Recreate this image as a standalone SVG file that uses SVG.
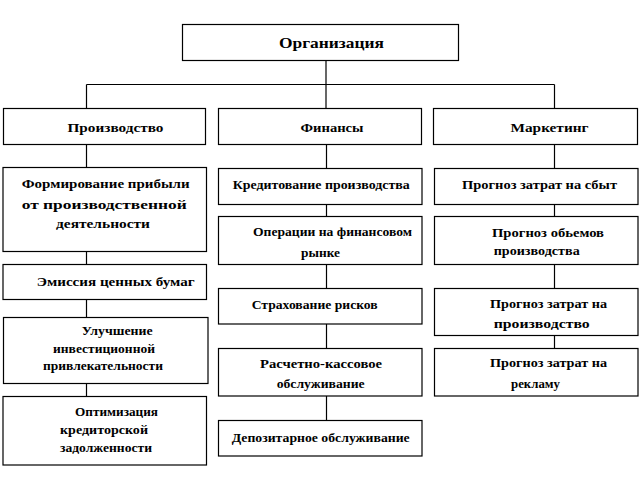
<svg xmlns="http://www.w3.org/2000/svg" width="642" height="480" viewBox="0 0 642 480">
<style>
rect.b{fill:#fff;stroke:#000;stroke-width:1.2}
.c line{stroke:#000;stroke-width:1.2}
text{font-family:'Liberation Serif','DejaVu Serif',serif;font-weight:bold;font-size:13px;fill:#000}
text.h{font-size:13.5px}
text.t{font-size:15px}
</style>
<rect width="642" height="480" fill="#fff"/>
<g id="connectors" class="c">
<line x1="326" y1="60.5" x2="326" y2="108.5"/>
<line x1="86.5" y1="84.5" x2="554.5" y2="84.5"/>
<line x1="86.5" y1="84.5" x2="86.5" y2="108.5"/>
<line x1="554.5" y1="84.5" x2="554.5" y2="108.5"/>
<line x1="86.5" y1="144.5" x2="86.5" y2="167.5"/>
<line x1="86.5" y1="251.5" x2="86.5" y2="264.5"/>
<line x1="86.5" y1="299.5" x2="86.5" y2="317.5"/>
<line x1="86.5" y1="383.5" x2="86.5" y2="396.5"/>
<line x1="326.5" y1="144.5" x2="326.5" y2="168.5"/>
<line x1="326.5" y1="204.5" x2="326.5" y2="216.5"/>
<line x1="326.5" y1="264.5" x2="326.5" y2="288.5"/>
<line x1="326.5" y1="324" x2="326.5" y2="348.5"/>
<line x1="326.5" y1="396" x2="326.5" y2="420.5"/>
<line x1="554.5" y1="144.5" x2="554.5" y2="168.5"/>
<line x1="554.5" y1="204.5" x2="554.5" y2="216.5"/>
<line x1="554.5" y1="264.5" x2="554.5" y2="288.5"/>
<line x1="554.5" y1="335.5" x2="554.5" y2="348.5"/>
</g>
<g id="org"><rect class="b" x="182.5" y="24.5" width="276" height="36"/><text class="t" x="279" y="48" textLength="105" lengthAdjust="spacingAndGlyphs">Организация</text></g>
<g id="prod"><rect class="b" x="3.5" y="108.5" width="202" height="36"/><text class="h" x="67.5" y="131.5" textLength="96" lengthAdjust="spacingAndGlyphs">Производство</text></g>
<g id="fin"><rect class="b" x="218.5" y="108.5" width="203" height="36"/><text class="h" x="300.5" y="131.5" textLength="63" lengthAdjust="spacingAndGlyphs">Финансы</text></g>
<g id="mark"><rect class="b" x="433.5" y="108.5" width="204" height="36"/><text class="h" x="510.5" y="131.5" textLength="78" lengthAdjust="spacingAndGlyphs">Маркетинг</text></g>

<g id="p1"><rect class="b" x="3" y="167.5" width="203.5" height="84"/>
<text x="21.7" y="188" textLength="168" lengthAdjust="spacingAndGlyphs">Формирование прибыли</text>
<text x="21.7" y="209" textLength="165" lengthAdjust="spacingAndGlyphs">от производственной</text>
<text x="56" y="228" textLength="94" lengthAdjust="spacingAndGlyphs">деятельности</text></g>
<g id="p2"><rect class="b" x="3" y="264.5" width="203.5" height="35"/>
<text x="36.7" y="285.5" textLength="158" lengthAdjust="spacingAndGlyphs">Эмиссия ценных бумаг</text></g>
<g id="p3"><rect class="b" x="3.5" y="317.5" width="204.5" height="66"/>
<text x="81.7" y="335" textLength="71" lengthAdjust="spacingAndGlyphs">Улучшение</text>
<text x="53" y="353" textLength="102" lengthAdjust="spacingAndGlyphs">инвестиционной</text>
<text x="43" y="370" textLength="120" lengthAdjust="spacingAndGlyphs">привлекательности</text></g>
<g id="p4"><rect class="b" x="3" y="396.5" width="203.5" height="68.5"/>
<text x="75" y="415.5" textLength="83" lengthAdjust="spacingAndGlyphs">Оптимизация</text>
<text x="60" y="434" textLength="88" lengthAdjust="spacingAndGlyphs">кредиторской</text>
<text x="60" y="452" textLength="92" lengthAdjust="spacingAndGlyphs">задолженности</text></g>

<g id="f1"><rect class="b" x="218.5" y="168.5" width="203.5" height="36"/>
<text x="232.7" y="189" textLength="177" lengthAdjust="spacingAndGlyphs">Кредитование производства</text></g>
<g id="f2"><rect class="b" x="218.5" y="216.5" width="203.5" height="48"/>
<text x="253" y="236" textLength="159" lengthAdjust="spacingAndGlyphs">Операции на финансовом</text>
<text x="301" y="256.5" textLength="39" lengthAdjust="spacingAndGlyphs">рынке</text></g>
<g id="f3"><rect class="b" x="218.5" y="288.5" width="203.5" height="35.5"/>
<text x="251.7" y="309" textLength="126" lengthAdjust="spacingAndGlyphs">Страхование рисков</text></g>
<g id="f4"><rect class="b" x="218.5" y="348.5" width="203.5" height="47.5"/>
<text x="260" y="367.5" textLength="122" lengthAdjust="spacingAndGlyphs">Расчетно-кассовое</text>
<text x="276.7" y="387.5" textLength="88" lengthAdjust="spacingAndGlyphs">обслуживание</text></g>
<g id="f5"><rect class="b" x="218.5" y="420.5" width="203.5" height="35.5"/>
<text x="231.7" y="441.5" textLength="178" lengthAdjust="spacingAndGlyphs">Депозитарное обслуживание</text></g>

<g id="m1"><rect class="b" x="434.5" y="168.5" width="203.5" height="36"/>
<text x="462" y="189" textLength="155" lengthAdjust="spacingAndGlyphs">Прогноз затрат на сбыт</text></g>
<g id="m2"><rect class="b" x="434.5" y="216.5" width="203.5" height="48"/>
<text x="492" y="236.5" textLength="112" lengthAdjust="spacingAndGlyphs">Прогноз обьемов</text>
<text x="493.7" y="255" textLength="86" lengthAdjust="spacingAndGlyphs">производства</text></g>
<g id="m3"><rect class="b" x="434.5" y="288.5" width="203.5" height="47"/>
<text x="490" y="307.5" textLength="117" lengthAdjust="spacingAndGlyphs">Прогноз затрат на</text>
<text x="493.7" y="327.5" textLength="96" lengthAdjust="spacingAndGlyphs">производство</text></g>
<g id="m4"><rect class="b" x="434.5" y="348.5" width="203.5" height="47.5"/>
<text x="490" y="366.5" textLength="117" lengthAdjust="spacingAndGlyphs">Прогноз затрат на</text>
<text x="511" y="387.5" textLength="49" lengthAdjust="spacingAndGlyphs">рекламу</text></g>
</svg>
